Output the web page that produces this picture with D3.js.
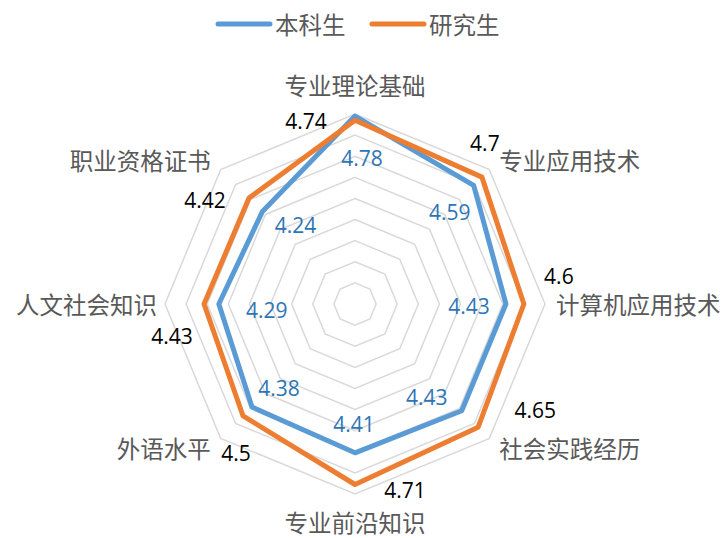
<!DOCTYPE html>
<html>
<head>
<meta charset="utf-8">
<script src="https://cdn.jsdelivr.net/npm/d3@7"></script>
<style>
  body { margin: 0; background: #fff; }
  svg { display: block; font-family: "Noto Sans CJK SC", "Noto Sans", sans-serif; }
</style>
</head>
<body>
<div id="chart"></div>
<script>
const categories = ['专业理论基础', '专业应用技术', '计算机应用技术', '社会实践经历', '专业前沿知识', '外语水平', '人文社会知识', '职业资格证书']
const undergrad = [4.78, 4.59, 4.43, 4.43, 4.41, 4.38, 4.29, 4.24]
const postgrad = [4.74, 4.7, 4.6, 4.65, 4.71, 4.5, 4.43, 4.42]
const seriesNames = ['本科生', '研究生']
const ringValues = [3.2, 3.4, 3.6, 3.8, 4.0, 4.2, 4.4, 4.6, 4.8]

// label nudges (dx, dy) from each point, like the hand-placed labels in the original
const undergradLabelOffset = [[7, 42], [-24, 27], [-37, 2], [-35, -14], [-1, -29], [27, -19], [48, 6], [33, 14]]
const postgradLabelOffset = [[-49, 1], [3, -34], [35, -28], [57, -17], [50, 5], [-7, 37], [-32, 32], [-44, 2]]

const width = 722
const height = 538
const cx = 355
const cy = 304
const radius = 190

const colors = ['#5B9BD5', '#ED7D31']
const labelColors = ['#2E75B6', '#000000']

const rScale = d3.scaleLinear()
  .domain([3, 4.8])
  .range([0, radius])

const angle = d3.scalePoint()
  .domain(categories)
  .range([0, 2 * Math.PI * (categories.length - 1) / categories.length])

function point(cat, v) {
  const a = angle(cat)
  return [Math.sin(a) * rScale(v), -Math.cos(a) * rScale(v)]
}

const svg = d3.select('#chart')
  .append('svg')
  .attr('width', width)
  .attr('height', height)

const g = svg.append('g')
  .attr('transform', `translate(${cx}, ${cy})`)

// grid rings
const ringLine = d3.line().curve(d3.curveLinearClosed)
g.append('g')
  .selectAll('path')
  .data(ringValues)
  .join('path')
    .attr('d', function(v) {
      return ringLine(categories.map(function(c) { return point(c, v) }))
    })
    .attr('fill', 'none')
    .attr('stroke', '#D9D9D9')
    .attr('stroke-width', 1.5)

// category labels
const catPad = [29, 14, 11, 14, 28, 14, 8, 14]
g.append('g')
  .selectAll('text')
  .data(categories)
  .join('text')
    .attr('x', function(c, i) { return Math.sin(angle(c)) * (radius + catPad[i]) })
    .attr('y', function(c, i) { return -Math.cos(angle(c)) * (radius + catPad[i]) })
    .attr('text-anchor', function(c) {
      const s = Math.sin(angle(c))
      return Math.abs(s) < 0.01 ? 'middle' : (s > 0 ? 'start' : 'end')
    })
    .attr('dominant-baseline', 'central')
    .attr('font-size', 23.5)
    .attr('fill', '#595959')
    .text(function(c) { return c })

const series = [undergrad, postgrad]
const offsets = [undergradLabelOffset, postgradLabelOffset]

// series lines, undergrad first so postgrad sits on top
series.forEach(function(values, s) {
  g.append('path')
    .attr('d', ringLine(categories.map(function(c, i) { return point(c, values[i]) })))
    .attr('fill', 'none')
    .attr('stroke', colors[s])
    .attr('stroke-width', 5)
    .attr('stroke-linejoin', 'round')
})

series.forEach(function(values, s) {
  g.append('g')
    .selectAll('text')
    .data(values)
    .join('text')
      .attr('x', function(v, i) { return point(categories[i], v)[0] + offsets[s][i][0] })
      .attr('y', function(v, i) { return point(categories[i], v)[1] + offsets[s][i][1] })
      .attr('text-anchor', 'middle')
      .attr('dominant-baseline', 'central')
      .attr('font-family', '"Open Sans", "Noto Sans", sans-serif')
      .attr('font-size', 21)
      .attr('fill', labelColors[s])
      .text(function(v) { return v })
})

// legend
const legend = svg.append('g')
  .attr('transform', 'translate(218, 24)')

const legendItems = legend.selectAll('g')
  .data(seriesNames)
  .join('g')
    .attr('transform', function(d, i) { return `translate(${i * 154}, 0)` })

legendItems.append('line')
  .attr('x1', 0)
  .attr('x2', 52)
  .attr('stroke', function(d, i) { return colors[i] })
  .attr('stroke-width', 5)
  .attr('stroke-linecap', 'round')

legendItems.append('text')
  .attr('x', 57)
  .attr('dominant-baseline', 'central')
  .attr('font-size', 23.5)
  .attr('fill', '#595959')
  .text(function(d) { return d })
</script>
</body>
</html>
